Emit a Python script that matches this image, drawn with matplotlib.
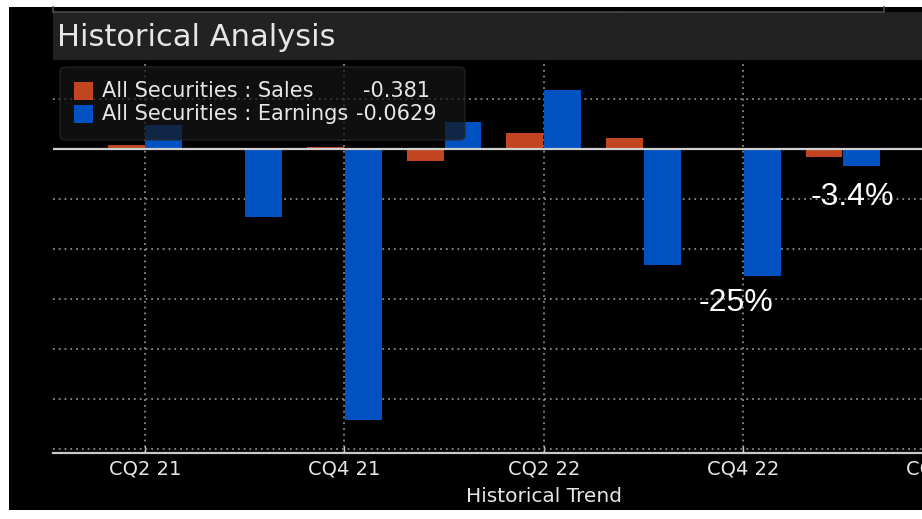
import matplotlib
matplotlib.use("Agg")
import matplotlib.pyplot as plt
from matplotlib.patches import Rectangle, FancyBboxPatch

quarters = ["CQ2 21", "CQ3 21", "CQ4 21", "CQ1 22", "CQ2 22",
            "CQ3 22", "CQ4 22", "CQ1 23", "CQ2 23"]
sales = [0.8, 0.0, 0.5, -2.3, 3.3, 2.2, 0.0, -1.6]
earnings = [4.9, -13.6, -54.2, 5.4, 11.8, -23.1, -25.4, -3.3]
legend_labels = ["All Securities : Sales", "All Securities : Earnings"]
legend_values = ["-0.381", "-0.0629"]
callouts = [(6, "-25%"), (7, "-3.4%")]

W, H = 922, 519
ORANGE = "#c1461f"
BLUE = "#0052c2"
TXT = "#e6e6e6"


def fx(px):
    return px / W


def fy(py):
    return 1 - py / H


fig = plt.figure(figsize=(W / 100, H / 100), dpi=100, facecolor="white")

# black screen area and title bar
fig.add_artist(Rectangle((fx(9), fy(510)), fx(W - 9), (510 - 7) / H,
                         transform=fig.transFigure, facecolor="black",
                         edgecolor="none", zorder=0))
fig.add_artist(Rectangle((fx(53), fy(60)), fx(W - 53), (60 - 12) / H,
                         transform=fig.transFigure, facecolor="#222222",
                         edgecolor="none", zorder=0.5))
fig.add_artist(plt.Line2D([fx(53), fx(620)], [fy(12), fy(12)],
                          transform=fig.transFigure, color="#4a4a4a", lw=1.2))
fig.add_artist(plt.Line2D([fx(53), fx(53)], [fy(7), fy(12)],
                          transform=fig.transFigure, color="#4a4a4a", lw=1.2))
fig.add_artist(plt.Line2D([fx(620), fx(884), fx(884)], [fy(12), fy(12), fy(7)],
                          transform=fig.transFigure, color="#4a4a4a", lw=1.2))
fig.text(fx(57), fy(37), "Historical Analysis", color=TXT, fontsize=22,
         family="DejaVu Sans", va="center", ha="left")

# plot axes, extending past the right edge like the screenshot
x_left, x_step = 53, 99.7
x0 = 145
ax_right = 1041
ax = fig.add_axes([fx(x_left), fy(453), fx(ax_right - x_left), (453 - 60) / H])
ax.set_facecolor("none")
ax.set_xlim((x_left - x0) / x_step, (ax_right - x0) / x_step)
ax.set_ylim(-60.8, 17.9)

idx = list(range(len(sales)))
w = 0.37
ax.bar([i - 0.19 for i in idx], sales, width=w, color=ORANGE, zorder=3)
ax.bar([i + 0.19 for i in idx], earnings, width=w, color=BLUE, zorder=3)
ax.axhline(0, color="#d0d0d0", lw=1.6, zorder=4)

ax.set_yticks(range(-60, 20, 10))
ax.set_xticks(range(0, len(quarters), 2))
ax.set_xticklabels(quarters[::2])
ax.grid(True, color="#8a8a8a", lw=1.3, ls=(0, (1, 2.2)), zorder=1)
ax.tick_params(axis="y", length=0, labelleft=False)
ax.tick_params(axis="x", direction="in", length=5, width=1, color="#cccccc",
               colors=TXT, labelsize=14, pad=5)
for s in ["top", "left", "right"]:
    ax.spines[s].set_visible(False)
ax.spines["bottom"].set_color("#c8c8c8")
ax.spines["bottom"].set_linewidth(1.6)

ax.text(4, -0.11, "Historical Trend", transform=ax.get_xaxis_transform(),
        color=TXT, fontsize=14.5, ha="center", va="center")

for q, label in callouts:
    y = earnings[q]
    if q == 6:
        ax.text(q - 0.07, y - 5.3, label, color="white", fontsize=23,
                family="Liberation Sans", ha="center", va="center", zorder=6)
    else:
        ax.text(q + 0.1, y - 6.2, label, color="white", fontsize=23,
                family="Liberation Sans", ha="center", va="center", zorder=6)

# legend box drawn over the plot
fig.add_artist(FancyBboxPatch((fx(60), fy(140)), fx(465 - 60), (140 - 67) / H,
                              boxstyle="round,pad=0,rounding_size=0.008",
                              transform=fig.transFigure, facecolor="#161616",
                              edgecolor="#2a2a2a", alpha=0.72, zorder=5))
for k, (lab, val, col) in enumerate(zip(legend_labels, legend_values, [ORANGE, BLUE])):
    yc = 91 + k * 23
    fig.add_artist(Rectangle((fx(74), fy(yc + 9)), fx(19), 18 / H,
                             transform=fig.transFigure, facecolor=col,
                             edgecolor="none", zorder=6))
    fig.text(fx(102), fy(yc), lab, color=TXT, fontsize=15, va="center",
             ha="left", zorder=7)
fig.text(fx(363), fy(91), legend_values[0], color=TXT, fontsize=15,
         va="center", ha="left", zorder=7)
fig.text(fx(356), fy(114), legend_values[1], color=TXT, fontsize=15,
         va="center", ha="left", zorder=7)

fig.savefig("out.png", dpi=100, facecolor="white")
